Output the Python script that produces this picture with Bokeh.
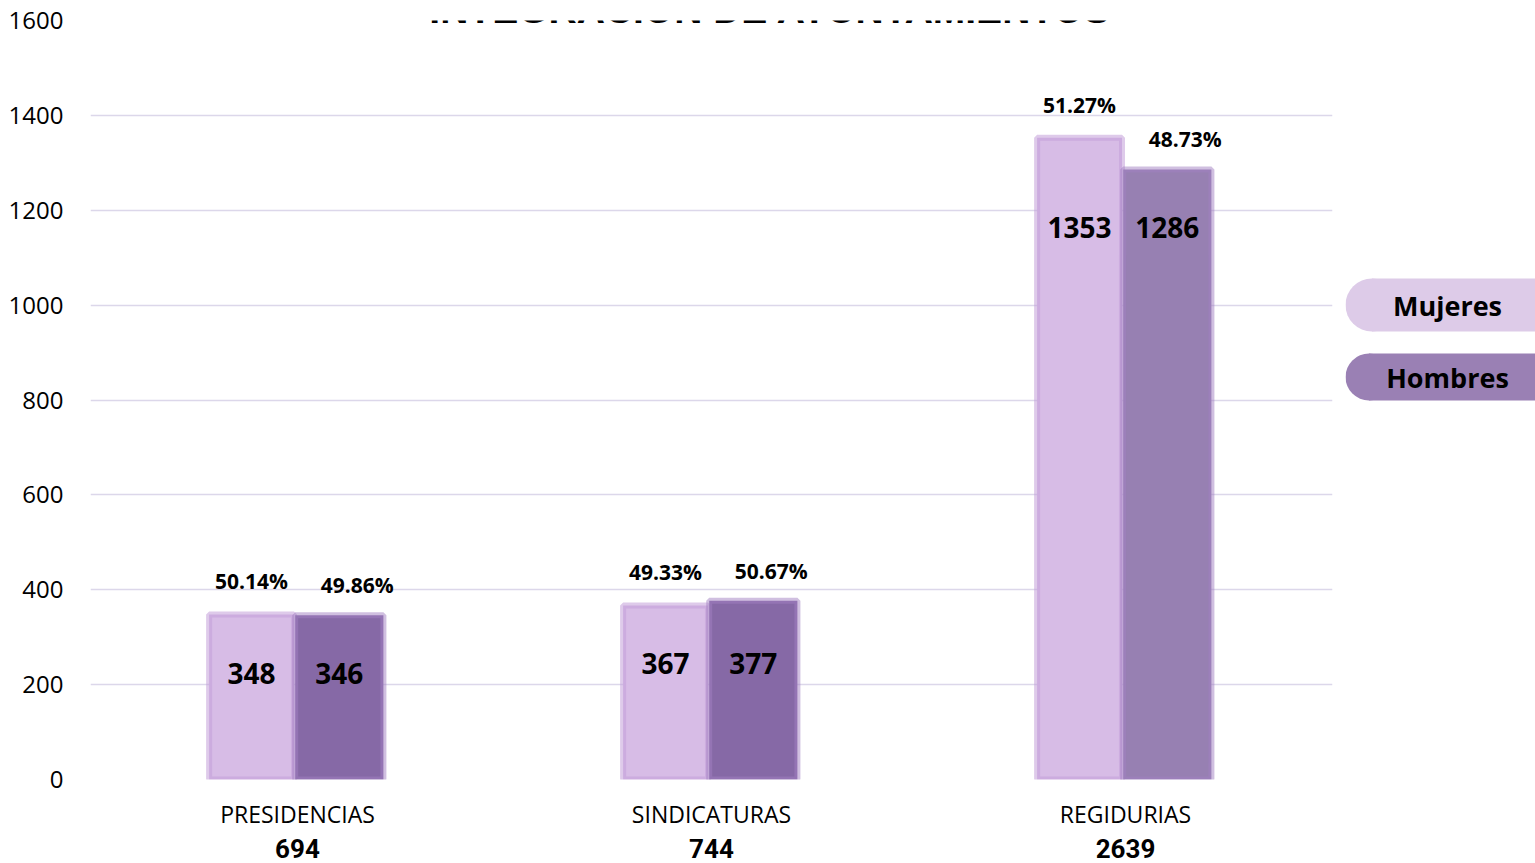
from bokeh.plotting import figure
from bokeh.layouts import row
from bokeh.models import (ColumnDataSource, FactorRange, Range1d, Label, SingleIntervalTicker,
                          CategoricalAxis)
from bokeh.transform import dodge
from bokeh.core.properties import value
from bokeh.embed import file_html
from bokeh.resources import INLINE

# ---- data ----
categories = ["PRESIDENCIAS", "SINDICATURAS", "REGIDURIAS"]
series = ["Mujeres", "Hombres"]
mujeres = [348, 367, 1353]
hombres = [346, 377, 1286]
title_text = "INTEGRACIÓN DE AYUNTAMIENTOS"

totals = [m + h for m, h in zip(mujeres, hombres)]
total_labels = [str(t) for t in totals]
pct_m = [f"{100 * m / t:.2f}%" for m, t in zip(mujeres, totals)]
pct_h = [f"{100 * h / t:.2f}%" for h, t in zip(hombres, totals)]
label_row = [min(m, h) for m, h in zip(mujeres, hombres)]

# ---- styles ----
FONT = "Open Sans"
MUJ_FILL = "#D7BCE6"
MUJ_EDGE = "#C39FD9"
HOM_FILLS = ["#8669A6", "#8669A6", "#9780B2"]
HOM_EDGE = "#A27FC2"
LEG_COLORS = ["#DDCBE8", "#9A80B4"]

src = ColumnDataSource(dict(
    cat=categories, mujeres=mujeres, hombres=hombres,
    pm=pct_m, ph=pct_h, row=label_row,
    sm=[str(v) for v in mujeres], sh=[str(v) for v in hombres], hcol=HOM_FILLS,
))

p = figure(x_range=FactorRange(*categories), y_range=Range1d(0, 1600),
           width=1345, height=863, output_backend="svg", toolbar_location=None,
           min_border_left=90, min_border_right=13, min_border_top=20, min_border_bottom=84)
p.outline_line_color = None
p.background_fill_color = "white"
p.border_fill_color = "white"
p.xgrid.grid_line_color = None
p.ygrid.grid_line_color = "#DCD7EA"
p.ygrid.grid_line_width = 1.5

p.yaxis.ticker = SingleIntervalTicker(interval=200, num_minor_ticks=0)

# second x axis: totals under category names
p.extra_x_ranges = {"totals": FactorRange(*total_labels)}
tot_axis = CategoricalAxis(x_range_name="totals")
p.add_layout(tot_axis, "below")

for ax in (p.xaxis[0], p.yaxis[0], tot_axis):
    ax.axis_line_color = None
    ax.major_tick_line_color = None
    ax.minor_tick_line_color = None
    ax.major_tick_out = 0
    ax.major_tick_in = 0
    ax.major_label_text_font = FONT
    ax.major_label_text_color = "#000000"
p.yaxis.major_label_text_font_size = "24px"
p.yaxis.major_label_standoff = 27
p.xaxis[0].major_label_text_font_size = "23px"
p.xaxis[0].major_label_standoff = 18
tot_axis.major_label_text_font = "Roboto"
tot_axis.major_label_text_font_style = "bold"
tot_axis.major_label_text_font_size = "26px"
tot_axis.major_label_standoff = 6

dm = dodge("cat", -0.111, range=p.x_range)
dh = dodge("cat", 0.101, range=p.x_range)

p.vbar(x=dm, top="mujeres", width=0.205, source=src, fill_color=MUJ_FILL,
       line_color=MUJ_EDGE, line_width=6, line_alpha=0.55)
p.vbar(x=dh, top="hombres", width=0.213, source=src, fill_color="hcol",
       line_color=HOM_EDGE, line_width=6, line_alpha=0.5)

# values inside bars
for xx, col in ((dm, "sm"), (dh, "sh")):
    p.text(x=xx, y="row", text=col, source=src, y_offset=58, text_align="center",
           text_baseline="middle", text_font=value(FONT), text_font_style="bold",
           text_font_size="28px", text_color="#000000")

# percentages above bars
p.text(x=dm, y="mujeres", text="pm", source=src, y_offset=-33, text_align="center",
       text_baseline="middle", text_font=value(FONT), text_font_style="bold",
       text_font_size="21px", text_color="#000000")
p.text(x=dh, y="hombres", text="ph", source=src, y_offset=-30, x_offset=18, text_align="center",
       text_baseline="middle", text_font=value(FONT), text_font_style="bold",
       text_font_size="21px", text_color="#000000")

# title (cut off at the top as in the source)
p.add_layout(Label(x=1.642, y=1624, text=title_text, text_align="center", text_baseline="alphabetic",
                   text_font="Liberation Sans", text_font_style="bold",
                   text_font_size="39px", text_color="#000000"))

# ---- legend panel (pill-shaped keys); its frame is aligned with the main frame ----
q = figure(width=190, height=863, x_range=Range1d(0, 190), y_range=Range1d(779, 20),
           output_backend="svg", toolbar_location=None, title=None,
           x_axis_location=None, y_axis_location=None,
           min_border_left=0, min_border_right=0, min_border_top=20, min_border_bottom=84)
q.grid.visible = False
q.outline_line_color = None
q.background_fill_color = "white"
q.border_fill_color = "white"

pill_h = [53, 47]
pill_r = [h / 2 for h in pill_h]
leg = ColumnDataSource(dict(
    name=series, color=LEG_COLORS,
    cy=[304.5, 376.5], h=pill_h, r=pill_r,
    rx=[(r + 200) / 2 for r in pill_r], rw=[200 - r for r in pill_r],
))
q.circle(x="r", y="cy", radius="r", source=leg, fill_color="color", line_color=None)
q.rect(x="rx", y="cy", width="rw", height="h", source=leg, fill_color="color", line_color=None)
q.text(x=102, y="cy", text="name", source=leg, text_align="center", text_baseline="middle",
       text_font=value(FONT), text_font_style="bold", text_font_size="27px", text_color="#000000")

layout = row(p, q, spacing=0)
open("out.html", "w").write(file_html(layout, INLINE))
